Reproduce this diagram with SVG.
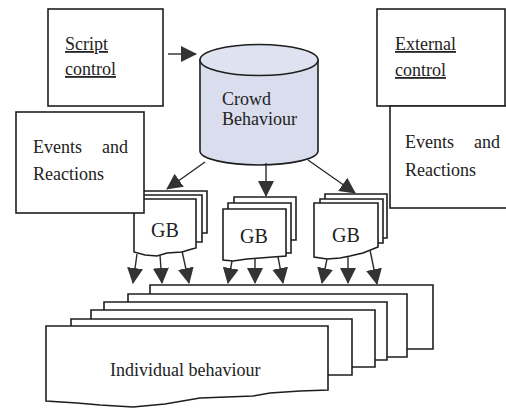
<svg xmlns="http://www.w3.org/2000/svg" width="506" height="408" viewBox="0 0 506 408">
<defs>
<style>
.b{fill:#fff;stroke:#1e1e1e;stroke-width:1.6}
.t{font-family:'Liberation Serif','DejaVu Serif',serif;font-size:18px;fill:#222}
.g{font-family:'Liberation Serif','DejaVu Serif',serif;font-size:20px;fill:#222}
.u{text-decoration:underline}
.c{fill:none;stroke:#2a2a2a;stroke-width:1.4;marker-end:url(#ah)}
</style>
<marker id="ah" markerUnits="userSpaceOnUse" markerWidth="16" markerHeight="16" refX="15" refY="8" orient="auto" viewBox="0 0 16 16">
<path d="M0,0 L16,8 L0,16 Z" fill="#333"/>
</marker>
</defs>
<rect width="506" height="408" fill="#fff"/>

<g id="gb1">
<path class="b" d="M140,191 H207 V233 H140 Z"/>
<path class="b" d="M137,195 H202 V242 H137 Z"/>
<path class="b" d="M134,199 H196 V248 L192,249 L182,252 L167,253 L157,256 L145,255 L134,252 Z"/>
<text class="g" x="165" y="237" text-anchor="middle">GB</text>
</g>
<g id="gb2">
<path class="b" d="M234,197 H296 V240 H234 Z"/>
<path class="b" d="M228,203 H291 V253 H228 Z"/>
<path class="b" d="M223,209 H286 V256 L273,257 L260,258 L247,259 L233,261 L223,260 Z"/>
<text class="g" x="254" y="243" text-anchor="middle">GB</text>
</g>
<g id="gb3">
<path class="b" d="M325,194 H387 V238 H325 Z"/>
<path class="b" d="M320,199 H383 V243 H320 Z"/>
<path class="b" d="M314,203 H378 V247 L363,253 L350,256 L340,258 L327,259 L314,257 Z"/>
<text class="g" x="346" y="242" text-anchor="middle">GB</text>
</g>

<g id="script-control">
<rect class="b" x="48" y="9" width="115" height="97"/>
<text class="t u" x="65" y="50">Script</text>
<text class="t u" x="65" y="75">control</text>
</g>
<g id="events-left">
<rect class="b" x="16" y="112" width="128" height="101"/>
<text class="t" x="33" y="153">Events</text>
<text class="t" x="128" y="153" text-anchor="end">and</text>
<text class="t" x="33" y="180">Reactions</text>
</g>
<g id="external-control">
<rect class="b" x="377" y="9" width="128" height="97"/>
<text class="t u" x="395" y="50">External</text>
<text class="t u" x="395" y="76">control</text>
</g>
<g id="events-right">
<rect class="b" x="390" y="106" width="120" height="102"/>
<text class="t" x="405" y="148">Events</text>
<text class="t" x="500" y="148" text-anchor="end">and</text>
<text class="t" x="405" y="176">Reactions</text>
</g>
<g id="crowd-behaviour">
<path d="M200,60 V151 A59,14 0 0 0 318,151 V60 Z" fill="#dadded" stroke="#1e1e1e" stroke-width="1.6"/>
<ellipse cx="259" cy="60" rx="59" ry="15.5" fill="#dfe2f0" stroke="#1e1e1e" stroke-width="1.6"/>
<text class="t" x="222" y="105">Crowd</text>
<text class="t" x="222" y="125">Behaviour</text>
</g>

<g id="individual-behaviour">
<path class="b" d="M150,285 H433 V349 H150 Z"/>
<path class="b" d="M128,294 H407 V357 H128 Z"/>
<path class="b" d="M104,302 H387 V360 H104 Z"/>
<path class="b" d="M91,310 H375 V367 H91 Z"/>
<path class="b" d="M71,319 H352 V375 H71 Z"/>
<path class="b" d="M46,326 H328 V390 L300,391 L270,393 L253,396 L200,398 L165,404 L133,407 L100,405 L77,403 L46,401 Z"/>
<text class="t" x="110" y="376">Individual behaviour</text>
</g>

<g id="connectors">
<path class="c" d="M168,54 H196"/>
<path class="c" d="M205,162 L167,189"/>
<path class="c" d="M266,163 V196"/>
<path class="c" d="M308,160 L355,193"/>
<path class="c" d="M137,254 L133,283"/>
<path class="c" d="M160,255 L162,283"/>
<path class="c" d="M182,251 L189,283"/>
<path class="c" d="M232,261 L228,283"/>
<path class="c" d="M255,258 V283"/>
<path class="c" d="M278,257 L283,283"/>
<path class="c" d="M327,259 L322,283"/>
<path class="c" d="M348,257 V283"/>
<path class="c" d="M370,250 L377,284"/>
</g>
</svg>
